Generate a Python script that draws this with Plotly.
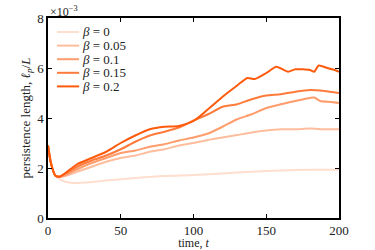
import plotly.graph_objects as go

betas = ["0", "0.05", "0.1", "0.15", "0.2"]
colors = ["#ffdece", "#febd9d", "#fe9c6c", "#fe7b3b", "#fd5a0b"]

t_b0 = [0, 2, 5, 8, 12, 17, 25, 40, 60, 80, 100, 120, 140, 160, 180, 200]
v_b0 = [2.9, 2.2, 1.7, 1.55, 1.45, 1.4, 1.42, 1.5, 1.6, 1.68, 1.72, 1.78, 1.85, 1.9, 1.93, 1.93]

t_b05 = [0, 2, 5, 8, 12, 20, 30, 40, 50, 60, 70, 80, 90, 100, 110, 120, 130, 140, 150, 160, 170, 180, 190, 200]
v_b05 = [2.9, 2.2, 1.7, 1.65, 1.68, 1.85, 2.05, 2.25, 2.4, 2.5, 2.65, 2.75, 2.9, 3.0, 3.12, 3.22, 3.32, 3.42, 3.5, 3.55, 3.55, 3.58, 3.55, 3.55]

t_b10 = [0, 2, 5, 8, 12, 20, 30, 40, 50, 60, 70, 80, 90, 100, 110, 120, 130, 140, 150, 160, 170, 180, 183, 187, 195, 200]
v_b10 = [2.9, 2.2, 1.7, 1.65, 1.72, 1.95, 2.2, 2.4, 2.6, 2.7, 2.85, 2.95, 3.1, 3.22, 3.38, 3.65, 3.95, 4.15, 4.4, 4.55, 4.68, 4.8, 4.82, 4.68, 4.64, 4.6]

t_b15 = [0, 2, 5, 8, 12, 20, 30, 40, 50, 60, 70, 80, 90, 100, 110, 120, 130, 140, 150, 160, 170, 180, 190, 200]
v_b15 = [2.9, 2.2, 1.7, 1.65, 1.78, 2.05, 2.3, 2.5, 2.75, 3.05, 3.3, 3.45, 3.62, 3.9, 4.15, 4.45, 4.55, 4.75, 4.9, 4.95, 5.05, 5.12, 5.08, 5.0]

t_b20 = [0, 2, 5, 8, 12, 20, 30, 40, 50, 60, 70, 80, 90, 100, 110, 120, 130, 137, 142, 150, 157, 165, 170, 180, 183, 186, 192, 197, 200]
v_b20 = [2.9, 2.2, 1.7, 1.65, 1.8, 2.15, 2.4, 2.65, 3.0, 3.3, 3.55, 3.65, 3.68, 3.88, 4.35, 4.85, 5.3, 5.6, 5.56, 5.8, 6.05, 5.85, 5.95, 5.92, 5.85, 6.1, 6.0, 5.92, 5.85]

series = [(t_b0, v_b0), (t_b05, v_b05), (t_b10, v_b10), (t_b15, v_b15), (t_b20, v_b20)]

x_ticks = [0, 50, 100, 150, 200]
y_ticks = [0, 2, 4, 6, 8]

FONT = "Liberation Serif"
TXT = "#222"

fig = go.Figure()
for (t, v), c, b in zip(series, colors, betas):
    fig.add_trace(go.Scatter(x=t, y=v, mode="lines", line=dict(color=c, width=2, shape="spline", smoothing=0.6),
                             name=f"β = {b}", showlegend=False, hoverinfo="skip"))

# custom compact legend
leg_top = 0.93
leg_step = 0.068
for i, (c, b) in enumerate(zip(colors, betas)):
    yy = leg_top - i * leg_step
    fig.add_shape(type="line", xref="paper", yref="paper", x0=0.031, x1=0.107, y0=yy, y1=yy,
                  line=dict(color=c, width=2))
    fig.add_annotation(xref="paper", yref="paper", x=0.113, y=yy, xanchor="left", yanchor="middle",
                       text=f"<i>β</i> = {b}", showarrow=False, borderpad=0,
                       font=dict(family=FONT, size=13, color=TXT))

fig.add_annotation(xref="paper", yref="paper", x=0.0, y=1.0, xanchor="left", yanchor="bottom",
                   text="×10<sup>−3</sup>", showarrow=False, font=dict(family=FONT, size=12, color=TXT),
                   yshift=-3)

axis_common = dict(showline=True, linecolor="black", linewidth=1.5, mirror="ticks", ticks="inside",
                   ticklen=4, tickwidth=1.2, tickcolor="black", showgrid=False, zeroline=False,
                   automargin=False, tickfont=dict(family=FONT, size=13, color=TXT))

fig.update_xaxes(range=[0, 200], tickvals=x_ticks,
                 title=dict(text="time, <i>t</i>", font=dict(family=FONT, size=12, color=TXT), standoff=3),
                 **axis_common)
fig.update_yaxes(range=[0, 8], tickvals=y_ticks,
                 title=dict(text="persistence length, <i>ℓ<sub>p</sub></i>/<i>L</i>", font=dict(family=FONT, size=13, color=TXT), standoff=4),
                 **axis_common)

fig.update_layout(width=375, height=250, margin=dict(l=48, r=36, t=18, b=32, autoexpand=False),
                  paper_bgcolor="white", plot_bgcolor="white", showlegend=False, hovermode=False)

fig.write_html("out.html", config={"displayModeBar": False},
               post_script="document.body.style.margin='0';")
